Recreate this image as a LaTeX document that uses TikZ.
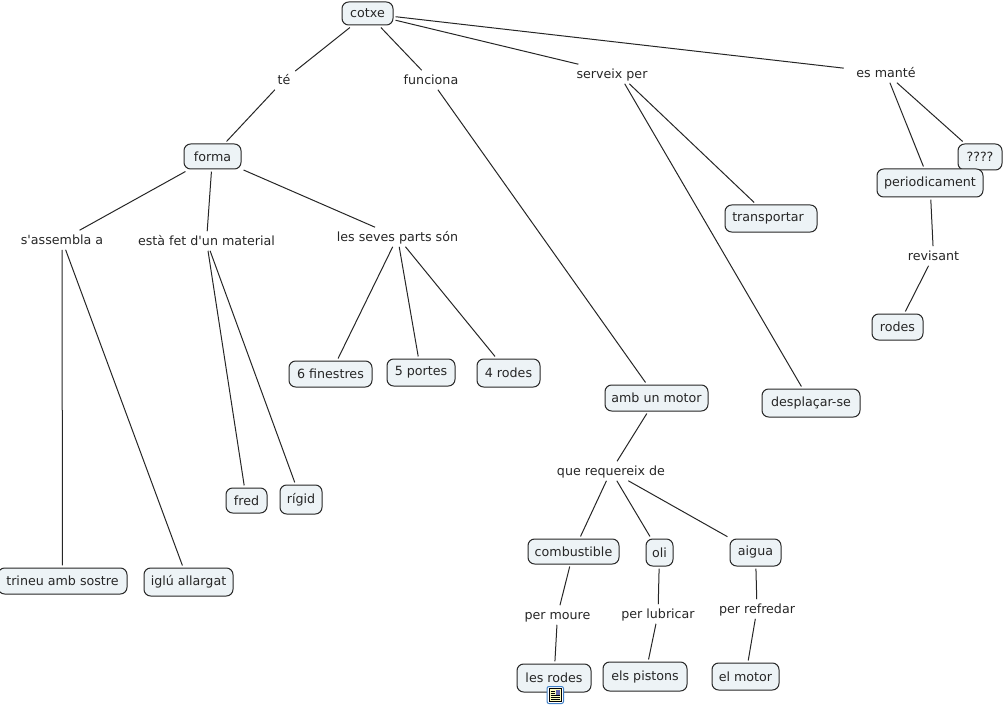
\documentclass[tikz,border=0pt]{standalone}
\usepackage{fontspec}
\setmainfont{DejaVu Sans}[Ligatures=TeXOff]
\tikzset{
  cbox/.style={draw=black!85!white,line width=0.75pt,rounded corners=5pt,fill=boxfill,inner sep=0pt,outer sep=1.9pt,font=\fontsize{9.5}{11}\selectfont,text=black!85},
  bw/.style={minimum width=#1*0.75pt},
  bh/.style={minimum height=#1*0.75pt},
  lab/.style={inner sep=0pt,minimum width=#1*0.75pt,minimum height=19*0.75pt,text height=8.4pt,text depth=1.6pt,font=\fontsize{9.5}{11}\selectfont,text=black!85},
  link/.style={draw=black!85!white,line width=0.75pt},
}
\definecolor{boxfill}{HTML}{EDF3F6}
\begin{document}
\begin{tikzpicture}[x=0.75pt,y=-0.75pt]
\useasboundingbox (0,0) rectangle (1003,706);
\node[cbox,bw=51,bh=23] (cotxe) at (367.5,13.5) {cotxe};
\node[cbox,bw=57,bh=25] (forma) at (212.5,156.5) {forma};
\node[cbox,bw=92,bh=27] (transportar) at (771,218.5) {transportar\hspace{4.5pt}\null};
\node[cbox,bw=83,bh=26] (finestres) at (330.5,374) {6 finestres};
\node[cbox,bw=68,bh=27] (portes) at (421,372.5) {5 portes};
\node[cbox,bw=63,bh=28] (rodesb) at (508.5,373) {4 rodes};
\node[cbox,bw=103,bh=26] (motor) at (656.5,398) {amb un motor};
\node[cbox,bw=98,bh=28] (desplacar) at (811,403) {desplaçar-se};
\node[cbox,bw=41,bh=25] (fred) at (246.5,500.5) {fred};
\node[cbox,bw=42,bh=29] (rigid) at (301,499.5) {rígid};
\node[cbox,bw=129,bh=26] (trineu) at (62.5,581) {trineu amb sostre};
\node[cbox,bw=89,bh=28] (iglu) at (188.5,582) {iglú allargat};
\node[cbox,bw=91,bh=25] (combustible) at (573.5,551.5) {combustible};
\node[cbox,bw=27,bh=27] (oli) at (659.5,552.5) {oli};
\node[cbox,bw=51,bh=27] (aigua) at (755.5,552.5) {aigua};
\node[cbox,bw=74,bh=28] (lesrodes) at (554,678) {les rodes};
\node[cbox,bw=84,bh=29] (pistons) at (645,676.5) {els pistons};
\node[cbox,bw=67,bh=27] (elmotor) at (745.5,676.5) {el motor};
\node[cbox,bw=44,bh=26] (interroga) at (980,157) {????};
\node[cbox,bw=106,bh=28] (periodicament) at (930,183) {periodicament};
\node[cbox,bw=51,bh=26] (rodesc) at (897.5,327) {rodes};
\node[lab=22] (te) at (284,80) {té};
\node[lab=54] (funciona) at (431,80) {funciona};
\node[lab=86] (serveix) at (619,74) {serveix per\hspace{10.5pt}\null};
\node[lab=84] (esmante) at (886,73) {es manté};
\node[lab=84] (assembla) at (62,240) {s'assembla a};
\node[lab=136] (fet) at (206.5,241) {està fet d'un material};
\node[lab=124] (seves) at (397.5,237) {les seves parts són};
\node[lab=110] (requereix) at (611,471) {que requereix de};
\node[lab=66] (permoure) at (557.5,615) {per moure};
\node[lab=72] (lubricar) at (658,614) {per lubricar};
\node[lab=78] (refredar) at (757,609) {per refredar};
\node[lab=52] (revisant) at (933.5,256) {revisant};
\draw[link] (cotxe)--(te);
\draw[link] (te)--(forma);
\draw[link] (cotxe)--(funciona);
\draw[link] (funciona)--(motor);
\draw[link] (cotxe)--(serveix);
\draw[link] (serveix)--(transportar);
\draw[link] (serveix)--(desplacar);
\draw[link] (cotxe)--(esmante);
\draw[link] (esmante)--(periodicament);
\draw[link] (esmante)--(interroga);
\draw[link] (periodicament)--(revisant);
\draw[link] (revisant)--(rodesc);
\draw[link] (forma)--(assembla);
\draw[link] (forma)--(fet);
\draw[link] (forma)--(seves);
\draw[link] (assembla)--(trineu);
\draw[link] (assembla)--(iglu);
\draw[link] (fet)--(fred);
\draw[link] (fet)--(rigid);
\draw[link] (seves)--(finestres);
\draw[link] (seves)--(portes);
\draw[link] (seves)--(rodesb);
\draw[link] (motor)--(requereix);
\draw[link] (requereix)--(combustible);
\draw[link] (requereix)--(oli);
\draw[link] (requereix)--(aigua);
\draw[link] (combustible)--(permoure);
\draw[link] (permoure)--(lesrodes);
\draw[link] (oli)--(lubricar);
\draw[link] (lubricar)--(pistons);
\draw[link] (aigua)--(refredar);
\draw[link] (refredar)--(elmotor);
% resource icon on "les rodes"
\definecolor{iconblue}{HTML}{3F80C8}
\draw[draw=iconblue,line width=0.75pt,fill=white,rounded corners=1.5pt] (547,686.5) rectangle (563.5,703.5);
\fill[yellow!25!white,draw=black,line width=0.6pt] (549.5,688.5) rectangle (561,701);
\fill[black!55!blue!60!white] (555.5,689.5) rectangle (560,694.5);
\foreach \yy in {691,693,695.5,697.5,699.5}{\draw[black,line width=0.45pt] (550.5,\yy)--(\ifdim\yy pt<695pt 554.5\else 560\fi,\yy);}
\end{tikzpicture}
\end{document}
